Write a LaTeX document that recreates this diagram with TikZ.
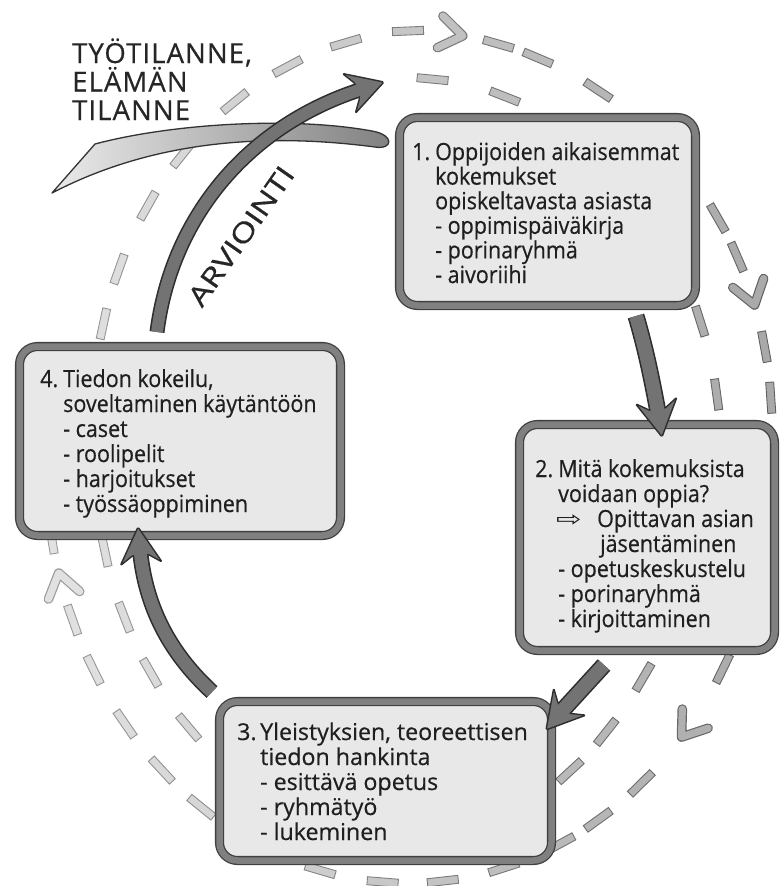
\documentclass[tikz,border=0pt]{standalone}
\usepackage{fontspec}
\usepackage{graphicx}
\setmainfont{Open Sans}[FakeStretch=0.91,FakeBold=0.5]
\newfontfamily\wideboxfont{Open Sans}[FakeBold=0.5]
\newfontfamily\capfont[LetterSpace=4,FakeBold=0.6]{Open Sans}
\newfontfamily\arvfont[FakeBold=0.6]{Open Sans}
\newfontfamily\symfont{DejaVu Sans}
\newcommand\arrowheadat[3]{\draw[headst, shift={(#1,#2)}, rotate={-1*(#3)}] (0,0) -- (-37,21) -- (-28,7.5) -- (-28,-7.5) -- (-37,-21) -- cycle;}
\begin{document}
\begin{tikzpicture}[x=1pt,y=-1pt,
 declare function={
  sbl(\t)=min(max((\t-270)/90,0),1);
  rxs(\t)=313+50*sbl(\t)-(\t>90)*(\t<180)*25*sin(2*(\t-90))+(\t>360)*(\t<450)*12*sin(2*(\t-360));
  rys(\t)=379+47*sbl(\t);
  spx(\t)=408+rxs(\t)*sin(\t);
  spy(\t)=457-rys(\t)*cos(\t);
  shd(\q)=11+23*min(max((\q-40)/735,0),1);
 },
 dashbox/.style={rectangle, inner sep=0pt, minimum width=31pt, minimum height=8pt, line width=0.9pt},
 chevo/.style={line width=9.6pt, line cap=round, line join=round},
 chevi/.style={line width=7.2pt, line cap=round, line join=round},
 boxst/.style={rectangle, rounded corners=18pt, fill=black!9, draw=black!75, double=black!50, double distance=6.5pt, line width=1.3pt, inner sep=0pt},
 shafto/.style={draw=black!82, line width=#1, line cap=butt},
 shafti/.style={draw=black!55, line width=#1, line cap=butt},
 headst/.style={fill=black!55, draw=black!82, line width=1.4pt, line join=round, rounded corners=1.5pt},
 swoosh/.style={left color=black!8, right color=black!50, draw=black!80, line width=1.3pt, line join=round},
 txt/.style={font=\fontsize{23.6}{25}\selectfont, text=black!88, anchor=base west, inner sep=0pt},
 txtw/.style={font=\wideboxfont\fontsize{23.2}{25}\selectfont, text=black!88, anchor=base west, inner sep=0pt},
 captxt/.style={font=\capfont\fontsize{27.5}{28}\selectfont, text=black!85, anchor=base west, inner sep=0pt},
 arvtxt/.style={font=\arvfont\fontsize{27}{30}\selectfont, text=black!85, inner sep=0pt},
]
\useasboundingbox (0,0) rectangle (781,886);
\fill[white] (0,0) rectangle (781,886);

% spiral of dashes
\foreach \t [count=\k] in {4.5,18,29,40,51,61,69,80.5,91,102,113,125.5,136.5,146,157,168,179,190,201,212,224.5,235.3,245,255.6,266,278,290,298.5,309,318.5,330,340,350,360,374.2,380.5,390.6,400,408,415.9,422,435,442,449,456,463,471,479.8,500,508.4,515.2,524.7,534.5,544,554,564,574.7,582.7,591.2,600,607.5,619,627,635,643}{
  \pgfmathsetmacro\dpx{spx(\t)}
  \pgfmathsetmacro\dpy{spy(\t)}
  \pgfmathsetmacro\dtx{spx(\t+0.5)-spx(\t-0.5)}
  \pgfmathsetmacro\dty{spy(\t+0.5)-spy(\t-0.5)}
  \pgfmathsetmacro\dra{atan2(-\dty,\dtx)}
  \pgfmathsetmacro\dsh{shd(\dpx)}
  \pgfmathsetmacro\dsd{\dsh+28}
  \node[dashbox, fill=black!\dsh, draw=black!\dsd, rotate=\dra] (dash\k) at (\dpx,\dpy) {};
}
% chevrons on the spiral
\foreach \t in {368.6,429.1,491.1,614.2}{
  \pgfmathsetmacro\cpx{spx(\t)}
  \pgfmathsetmacro\cpy{spy(\t)}
  \pgfmathsetmacro\ctx{spx(\t+0.5)-spx(\t-0.5)}
  \pgfmathsetmacro\cty{spy(\t+0.5)-spy(\t-0.5)}
  \pgfmathsetmacro\cal{atan2(\cty,\ctx)}
  \pgfmathsetmacro\csh{shd(\cpx)}
  \pgfmathsetmacro\csd{\csh+28}
  \draw[chevo, draw=black!\csd] (\cpx,\cpy) ++(\cal+145:28) -- (\cpx,\cpy) -- ++(\cal-145:28);
  \draw[chevi, draw=black!\csh] (\cpx,\cpy) ++(\cal+145:28) -- (\cpx,\cpy) -- ++(\cal-145:28);
}

% swoosh
\draw[swoosh] (52,193) -- (95,144) .. controls (170,124) and (290,116) .. (372,131) .. controls (395,135) and (393,150) .. (375,147) .. controls (260,132) and (150,142) .. (52,193) -- cycle;

% boxes
\node[boxst, minimum width=296pt, minimum height=188pt] (box1) at (547.5,211.5) {};
\node[boxst, minimum width=255pt, minimum height=226pt] (box2) at (647,537.5) {};
\node[boxst, minimum width=332pt, minimum height=159pt] (box3) at (385.5,781) {};
\node[boxst, minimum width=321pt, minimum height=189pt] (box4) at (180,441) {};

% arrows
\coordinate (aS) at (157,332); \coordinate (aE) at (361.2,89.4);
\draw[shafto=15pt] (aS) .. controls (172,215) and (250,125) .. (aE);
\arrowheadat{384}{82}{-18}
\draw[shafti=11.8pt] (aS) .. controls (172,215) and (250,125) .. (aE);

\coordinate (bS) at (636,316); \coordinate (bE) at (658.2,413.3);
\draw[shafto=17pt] (bS) .. controls (646,350) and (652,380) .. (bE);
\arrowheadat{662}{437}{81}
\draw[shafti=13.8pt] (bS) .. controls (646,350) and (652,380) .. (bE);

\coordinate (cS) at (604,665); \coordinate (cE) at (561.4,711.6);
\draw[shafto=17pt] (cS) -- (cE);
\arrowheadat{546}{730}{130}
\draw[shafti=13.8pt] (cS) -- (cE);

\coordinate (dS) at (212,692); \coordinate (dE) at (140.1,550.9);
\draw[shafto=16pt] (dS) .. controls (172,655) and (146,610) .. (dE);
\arrowheadat{138}{527}{-95}
\draw[shafti=12.8pt] (dS) .. controls (172,655) and (146,610) .. (dE);

% outside texts
\node[captxt] (sit1) at (72,63) {TYÖTILANNE,};
\node[captxt] (sit2) at (72,91.5) {ELÄMÄN};
\node[captxt] (sit3) at (72,120) {TILANNE};
\node[arvtxt, rotate=55] (arv) at (241,236) {\scalebox{1.27}[1]{ARVIOINTI}};

% box 1
\node[txt] (b1t1) at (412,160) {\makebox[23pt][l]{1.}Oppijoiden aikaisemmat};
\node[txt] (b1t2) at (435,184.6) {kokemukset};
\node[txt] (b1t3) at (435,209.2) {opiskeltavasta asiasta};
\node[txt] (b1t4) at (435,233.8) {- oppimispäiväkirja};
\node[txt] (b1t5) at (435,258.4) {- porinaryhmä};
\node[txt] (b1t6) at (435,283) {- aivoriihi};
% box 2
\node[txt] (b2t1) at (535,477) {\makebox[23pt][l]{2.}Mitä kokemuksista};
\node[txt] (b2t2) at (558,502) {voidaan oppia?};
\node[txt, font=\symfont\fontsize{21}{24}\selectfont] (b2ar) at (556,526) {\scalebox{1.45}[1]{⇨}};
\node[txt] (b2t3) at (597,527) {Opittavan asian};
\node[txt] (b2t4) at (600,552) {jäsentäminen};
\node[txt] (b2t5) at (558,577) {- opetuskeskustelu};
\node[txt] (b2t6) at (558,602) {- porinaryhmä};
\node[txt] (b2t7) at (558,627) {- kirjoittaminen};
% box 3
\node[txtw] (b3t1) at (237,740) {\makebox[23pt][l]{3.}Yleistyksien, teoreettisen};
\node[txtw] (b3t2) at (260,765) {tiedon hankinta};
\node[txtw] (b3t3) at (260,790) {- esittävä opetus};
\node[txtw] (b3t4) at (260,815) {- ryhmätyö};
\node[txtw] (b3t5) at (260,840) {- lukeminen};
% box 4
\node[txt] (b4t1) at (40,387) {\makebox[23pt][l]{4.}Tiedon kokeilu,};
\node[txt] (b4t2) at (63,412) {soveltaminen käytäntöön};
\node[txt] (b4t3) at (63,437) {- caset};
\node[txt] (b4t4) at (63,462) {- roolipelit};
\node[txt] (b4t5) at (63,487) {- harjoitukset};
\node[txt] (b4t6) at (63,512) {- työssäoppiminen};
\end{tikzpicture}
\end{document}
